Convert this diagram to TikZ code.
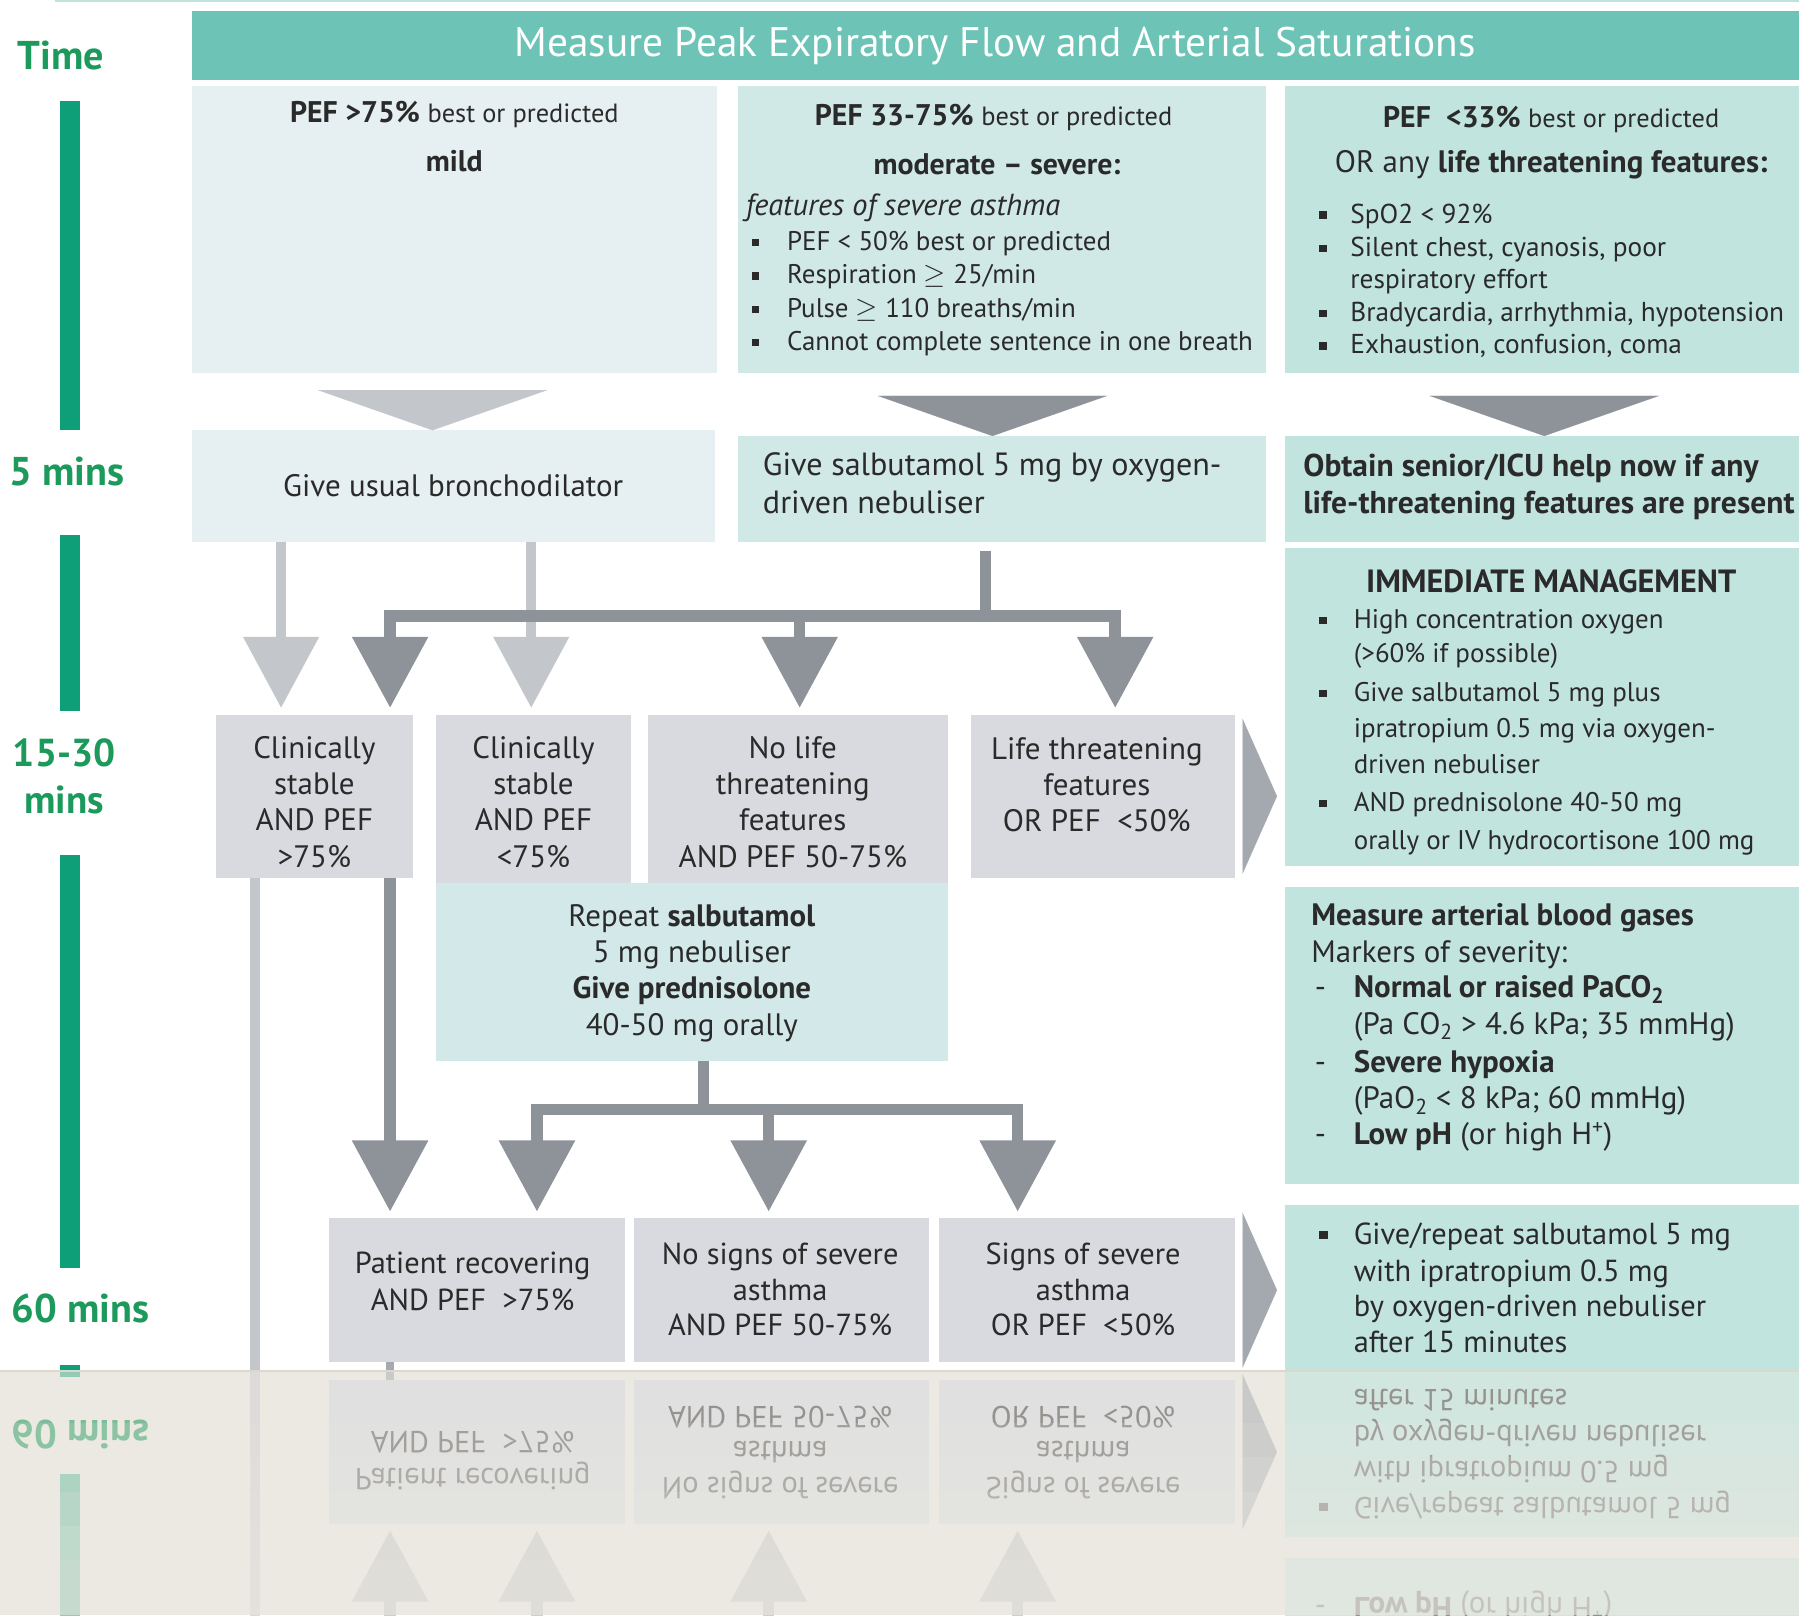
\documentclass[tikz,border=0pt]{standalone}
\usepackage{fontspec}
\setmainfont{PT Sans}
\usetikzlibrary{arrows.meta}
\definecolor{hdr}{HTML}{6DC4B6}
\definecolor{topl}{HTML}{BDE5DC}
\definecolor{tgreen}{HTML}{1C9A5C}
\definecolor{tbar}{HTML}{0E9E78}
\definecolor{boxA}{HTML}{E6EFF1}
\definecolor{boxB}{HTML}{D0E8E6}
\definecolor{boxC}{HTML}{C1E4DF}
\definecolor{repc}{HTML}{D3E9E9}
\definecolor{gbox}{HTML}{D8DADF}
\definecolor{lightg}{HTML}{C3C6CB}
\definecolor{darkg}{HTML}{8E939A}
\definecolor{sideg}{HTML}{A4A8AF}
\definecolor{ink}{HTML}{2A2A2A}
\definecolor{beige}{HTML}{ECE9E2}
\definecolor{sepc}{HTML}{DCD8CC}
\newcommand\fs[1]{\fontsize{#1}{#1}\selectfont}
\newcommand\fsl[2]{\fontsize{#1}{#2}\selectfont}
\newcommand\bul[1][29pt]{\makebox[#1][l]{\rule[0.16em]{0.27em}{0.27em}}}
\newcommand\dsh{\makebox[34pt][l]{-}}
\newcommand\bp{\normalfont\fs{23}best or predicted}
\newcounter{tn}
\newcommand\mytext[4][]{\stepcounter{tn}\node[txt,#1] (t\arabic{tn}) at (#2,#3) {#4};}
\tikzset{
  box/.style={rectangle, inner sep=0pt, outer sep=0pt, anchor=north west, draw=none},
  txt/.style={inner sep=0pt, outer sep=0pt, text=ink, anchor=west, text height=0.9em, text depth=0em, font=\fs{23.5}},
  ctxt/.style={inner sep=0pt, outer sep=0pt, align=center, text=ink},
  tlab/.style={inner sep=0pt, text=tgreen, font=\bfseries\fs{35}},
  lightline/.style={draw=lightg, line width=9pt},
  darkline/.style={draw=darkg, line width=10pt},
  lightarrow/.style={draw=lightg, line width=9pt, -{Triangle[width=64pt,length=62pt]}, shorten >=6pt},
  darkarrow/.style={draw=darkg, line width=10pt, line join=miter, -{Triangle[width=64pt,length=62pt]}, shorten >=6pt},
  widetri/.style={draw=#1, line width=0.1pt, shorten <=20pt, -{Triangle[width=200pt,length=35pt]}},
  sidetri/.style={draw=sideg, line width=0.1pt, shorten >=7pt, -{Triangle[width=135pt,length=30pt]}},
}
\newcommand\drawall{%
\draw[topl, line width=2pt] (48,1) -- (1568,1);
\node[box, fill=hdr, minimum width=1401pt, minimum height=60pt, text=white, font=\fs{36}] (hdr) at (167,10) {Measure Peak Expiratory Flow and Arterial Saturations};
% time column
\node[tlab] (tTime) at (53,48) {Time};
\node[tlab] (t5) at (58,411) {5 mins};
\node[tlab, align=center, font=\bfseries\fsl{34}{41}] (t15) at (56,677) {15-30\\mins};
\node[tlab] (t60) at (70,1140) {60 mins};
\fill[tbar] (52,88) rectangle (70,375);
\fill[tbar] (52,466) rectangle (70,620);
\fill[tbar] (52,745) rectangle (70,1105);
\fill[tbar] (52,1190) rectangle (70,1200);
% row 1
\node[box, fill=boxA, minimum width=458pt, minimum height=250pt] (pefA) at (167,75) {};
\node[box, fill=boxB, minimum width=460pt, minimum height=250pt] (pefB) at (643,75) {};
\node[box, fill=boxC, minimum width=448pt, minimum height=250pt] (pefC) at (1120,75) {};
\node[ctxt, font=\bfseries\fs{26}] (pefAt) at (396,100) {PEF >75\% \bp};
\node[ctxt, font=\bfseries\fs{26}] (pefAm) at (396,140) {mild};
\node[ctxt, font=\bfseries\fs{26}] (pefBt) at (866,102) {PEF 33-75\% \bp};
\node[ctxt, font=\bfseries\fs{26}] (pefBm) at (869,143) {moderate – severe:};
\mytext[font=\itshape\fs{26.5}]{650}{183}{features of severe asthma}
\mytext{655}{214}{\bul[31pt]PEF < 50\% best or predicted}
\mytext{655}{243}{\bul[31pt]Respiration $\geq$ 25/min}
\mytext{655}{272}{\bul[31pt]Pulse $\geq$ 110 breaths/min}
\mytext{655}{301}{\bul[31pt]Cannot complete sentence in one breath}
\node[ctxt, font=\bfseries\fs{26}] (pefCt) at (1352,104) {PEF \ <33\% \bp};
\node[ctxt, font=\fs{27}] (pefCm) at (1352,144) {OR any \textbf{life threatening features:}};
\mytext[font=\fs{23.8}]{1150}{190}{\bul[27pt]SpO2 < 92\%}
\mytext[font=\fs{23.8}]{1150}{219}{\bul[27pt]Silent chest, cyanosis, poor}
\mytext[font=\fs{23.8}]{1177}{247}{respiratory effort}
\mytext[font=\fs{23.8}]{1150}{276}{\bul[27pt]Bradycardia, arrhythmia, hypotension}
\mytext[font=\fs{23.8}]{1150}{304}{\bul[27pt]Exhaustion, confusion, coma}
% row 2
\node[box, fill=boxA, minimum width=456pt, minimum height=97pt, text=ink, font=\fs{27}] (giveA) at (167,375) {Give usual bronchodilator};
\node[box, fill=boxB, minimum width=460pt, minimum height=92pt] (giveB) at (643,380) {};
\node[box, fill=boxC, minimum width=448pt, minimum height=92pt] (giveC) at (1120,380) {};
\mytext[font=\fs{28}]{665}{410}{Give salbutamol 5 mg by oxygen-}
\mytext[font=\fs{28}]{665}{443}{driven nebuliser}
\mytext[font=\bfseries\fs{27.5}]{1136}{411}{Obtain senior/ICU help now if any}
\mytext[font=\bfseries\fs{27.5}]{1136}{443}{life-threatening features are present}
\draw[widetri=lightg] ([xshift=-19pt]pefA.south) -- ([xshift=-18pt]giveA.north);
\draw[widetri=darkg] ([xshift=-8pt]pefB.south) -- ([xshift=-8pt]giveB.north);
\draw[widetri=darkg] ([xshift=2pt]pefC.south) -- ([xshift=2pt]giveC.north);
% row 3
\node[box, fill=gbox, minimum width=172pt, minimum height=142pt] (cs1) at (188,623) {};
\node[box, fill=gbox, minimum width=170pt, minimum height=147pt] (cs2) at (380,623) {};
\node[box, fill=gbox, minimum width=261pt, minimum height=147pt] (nl) at (565,623) {};
\node[box, fill=gbox, minimum width=230pt, minimum height=142pt] (lt) at (846,623) {};
\node[box, fill=repc, minimum width=446pt, minimum height=155pt] (rep) at (380,770) {};
\node[ctxt, font=\fsl{27}{31.5}] (cs1t) at (274,699) {Clinically\\stable\\AND PEF\\>75\%};
\node[ctxt, font=\fsl{27}{31.5}] (cs2t) at (465,699) {Clinically\\stable\\AND PEF\\<75\%};
\node[ctxt, font=\fsl{27}{31.5}] (nlt) at (691,699) {No life\\threatening\\features\\AND PEF 50-75\%};
\node[ctxt, font=\fsl{27}{31.5}] (ltt) at (956,684) {Life threatening\\features\\OR PEF \ <50\%};
\node[ctxt, font=\fsl{27}{31.7}] (rept) at (603,848) {Repeat \textbf{salbutamol}\\5 mg nebuliser\\\textbf{Give prednisolone}\\40-50 mg orally};
\draw[lightarrow] ([xshift=-150pt]giveA.south) -- ([xshift=-29pt]cs1.north);
\draw[lightarrow] ([xshift=68pt]giveA.south) -- ([xshift=-2pt]cs2.north);
\coordinate (jB) at (859,537);
\draw[darkline, shorten <=8pt] ([xshift=-14pt]giveB.south) -- (jB);
\draw[darkarrow] (jB) -| ([xshift=66pt]cs1.north);
\draw[darkarrow] (jB) -| ([xshift=1.5pt]nl.north);
\draw[darkarrow] (jB) -| ([xshift=11pt]lt.north);
% right column
\node[box, fill=boxC, minimum width=448pt, minimum height=277pt] (imm) at (1120,478) {};
\node[box, fill=boxC, minimum width=448pt, minimum height=259pt] (abg) at (1120,773) {};
\node[box, fill=boxC, minimum width=448pt, minimum height=160pt] (give15) at (1120,1050) {};
\node[ctxt, font=\bfseries\fs{28}] (immt) at (1352,507) {IMMEDIATE MANAGEMENT};
\mytext{1150}{543}{\bul[30pt]High concentration oxygen}
\mytext{1180}{573}{(>60\% if possible)}
\mytext{1150}{607}{\bul[30pt]Give salbutamol 5 mg plus}
\mytext{1180}{638}{ipratropium 0.5 mg via oxygen-}
\mytext{1180}{670}{driven nebuliser}
\mytext{1150}{703}{\bul[30pt]AND prednisolone 40-50 mg}
\mytext{1180}{736}{orally or IV hydrocortisone 100 mg}
\mytext[font=\bfseries\fs{27}]{1143}{802}{Measure arterial blood gases}
\mytext[font=\fs{27}]{1143}{834}{Markers of severity:}
\mytext[font=\fs{27}]{1146}{865}{\dsh\textbf{Normal or raised PaCO\textsubscript{2}}}
\mytext[font=\fs{27}]{1180}{897}{(Pa CO\textsubscript{2} > 4.6 kPa; 35 mmHg)}
\mytext[font=\fs{27}]{1146}{930}{\dsh\textbf{Severe hypoxia}}
\mytext[font=\fs{27}]{1180}{962}{(PaO\textsubscript{2} < 8 kPa; 60 mmHg)}
\mytext[font=\fs{27}]{1146}{993}{\dsh\textbf{Low pH} (or high H\textsuperscript{+})}
\mytext[font=\fs{26.5}]{1150}{1080}{\bul[30pt]Give/repeat salbutamol 5 mg}
\mytext[font=\fs{26.5}]{1180}{1112}{with ipratropium 0.5 mg}
\mytext[font=\fs{26.5}]{1180}{1143}{by oxygen-driven nebuliser}
\mytext[font=\fs{26.5}]{1180}{1174}{after 15 minutes}
\draw[sidetri] ([xshift=7pt]lt.east) -- (lt.east -| imm.west);
% row 4
\node[box, fill=gbox, minimum width=258pt, minimum height=125pt] (pr) at (287,1062) {};
\node[box, fill=gbox, minimum width=257pt, minimum height=125pt] (ns) at (553,1062) {};
\node[box, fill=gbox, minimum width=258pt, minimum height=125pt] (ss) at (818,1062) {};
\node[ctxt, font=\fsl{26.5}{32}] (prt) at (412,1117) {Patient recovering\\AND PEF \ >75\%};
\node[ctxt, font=\fsl{26.5}{31}] (nst) at (680,1124) {No signs of severe\\asthma\\AND PEF 50-75\%};
\node[ctxt, font=\fsl{26.5}{31}] (sst) at (944,1124) {Signs of severe\\asthma\\OR PEF \ <50\%};
\coordinate (endL) at (222,1205);
\draw[lightline] ([xshift=-52pt]cs1.south) -- (endL);
\draw[darkarrow] ([xshift=66pt]cs1.south) -- ([xshift=-76pt]pr.north);
\coordinate (jR) at (613,967);
\draw[darkline] ([xshift=10pt]rep.south) -- (jR);
\draw[darkarrow] (jR) -| ([xshift=52pt]pr.north);
\draw[darkarrow] (jR) -| ([xshift=-11.5pt]ns.north);
\draw[darkarrow] (jR) -| ([xshift=-60pt]ss.north);
\coordinate (stubEnd) at (340,1200);
\draw[darkline, draw=sideg, line width=7pt] ([xshift=-76pt]pr.south) -- (stubEnd);
\draw[sidetri] ([xshift=7pt]ss.east) -- (ss.east -| give15.west);
}
\begin{document}
\begin{tikzpicture}[x=1pt,y=-1pt]
\useasboundingbox (0,0) rectangle (1568,1408);
\fill[white] (0,0) rectangle (1568,1408);
\begin{scope}
  \clip (0,0) rectangle (1568,1195);
  \drawall
\end{scope}
\fill[beige] (0,1195) rectangle (1568,1408);
\begin{scope}
  \clip (0,1195) rectangle (1568,1408);
  \colorlet{ink}{ink!45!beige}
  \colorlet{gbox}{gbox!60!beige}
  \colorlet{boxC}{boxC!60!beige}
  \colorlet{boxA}{boxA!60!beige}
  \colorlet{repc}{repc!60!beige}
  \colorlet{darkg}{darkg!30!beige}
  \colorlet{lightg}{lightg!40!beige}
  \colorlet{sideg}{sideg!50!beige}
  \colorlet{tgreen}{tgreen!55!beige}
  \colorlet{tbar}{tbar!40!beige}
  \begin{scope}[shift={(0,2390)}, yscale=-1, transform shape]
    \drawall
  \end{scope}
  \foreach \yy in {1240,1270,1300,1330,1360} {\fill[beige, fill opacity=0.16] (0,\yy) rectangle (1568,1408);}
\end{scope}
\draw[sepc, line width=1.5pt] (0,1195) -- (1568,1195);
\end{tikzpicture}
\end{document}
